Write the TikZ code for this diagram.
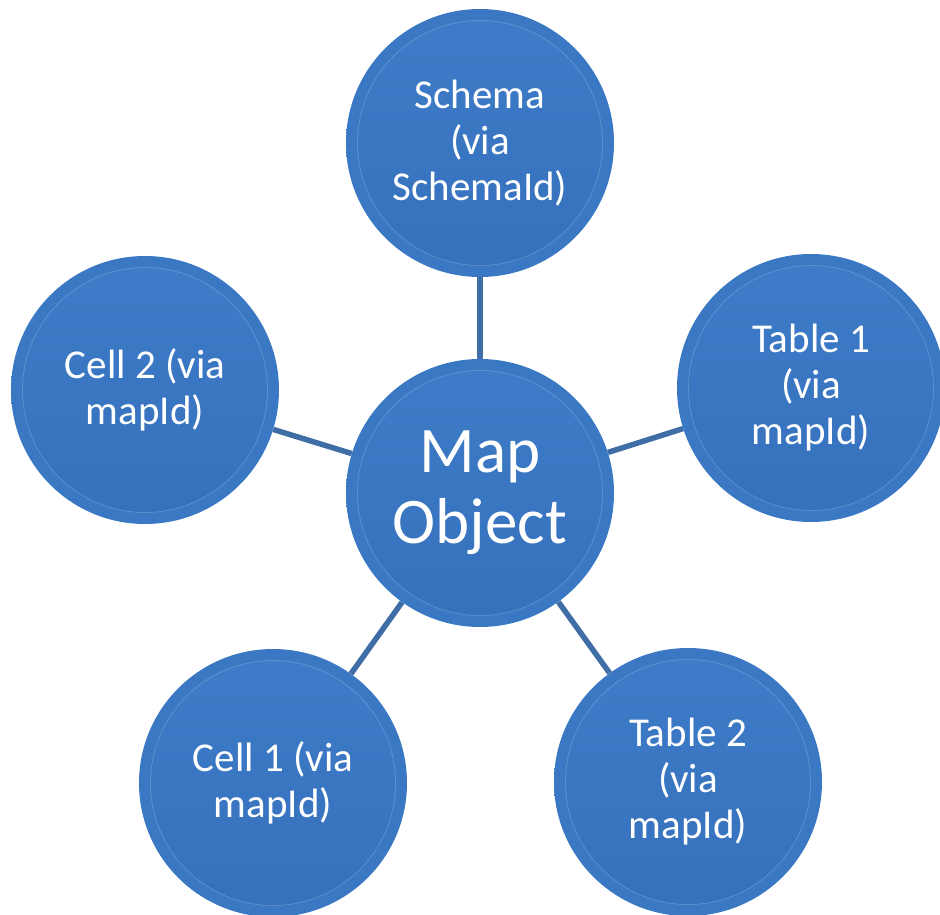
\documentclass[tikz,border=0pt]{standalone}
\usepackage{fontspec}
\setmainfont{Carlito}
\definecolor{rimdark}{HTML}{2A5996}
\definecolor{rimmid}{HTML}{3B78C4}
\definecolor{rimlight}{HTML}{5C9AE0}
\definecolor{facetop}{HTML}{3E7CC9}
\definecolor{facebot}{HTML}{3570BB}
\definecolor{linkblue}{HTML}{3F6DA6}
\pgfdeclareradialshading{bubblerim}{\pgfpoint{0bp}{0bp}}{%
  color(0bp)=(rimmid); color(45.2bp)=(rimmid); color(45.9bp)=(rimlight);
  color(47bp)=(rimmid); color(48.6bp)=(rimdark); color(50bp)=(rimdark)}
\tikzset{
  bubble/.style={circle, minimum size=268pt, inner sep=0pt, text=white,
    align=center, shading=bubblerim,
    path picture={
      \shade[top color=facetop, bottom color=facebot]
        (path picture bounding box.center) circle (122.5pt);
      \draw[white, opacity=0.18, line width=0.8pt]
        (path picture bounding box.center) circle (122.5pt);
    }},
  smalltext/.style={font=\fontsize{41}{46}\selectfont},
  bigtext/.style={font=\fontsize{65}{71}\selectfont},
  link/.style={draw=linkblue, line width=5.5pt}
}
\begin{document}
\begin{tikzpicture}[x=1pt,y=-1pt]
\useasboundingbox (0,0) rectangle (940,915);
\node[bubble, bigtext]   (map)    at (480,493) {Map\\Object};
\node[bubble, smalltext] (schema) at (480,143) {Schema\\(via\\SchemaId)};
\node[bubble, smalltext] (table1) at (811,388) {Table 1\\(via\\mapId)};
\node[bubble, smalltext] (cell2)  at (145,390) {Cell 2 (via\\mapId)};
\node[bubble, smalltext] (cell1)  at (273,783) {Cell 1 (via\\mapId)};
\node[bubble, smalltext] (table2) at (688,782) {Table 2\\(via\\mapId)};
\draw[link] (map) -- (schema);
\draw[link] (map) -- (table1);
\draw[link] (map) -- (cell2);
\draw[link] (map) -- (cell1);
\draw[link] (map) -- (table2);
\end{tikzpicture}
\end{document}
